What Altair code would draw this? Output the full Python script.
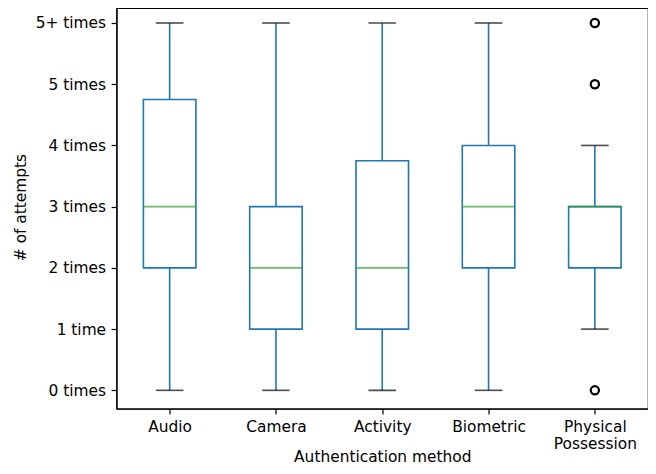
import json
import altair as alt
import pandas as pd

methods = ["Audio", "Camera", "Activity", "Biometric", "Physical\nPossession"]
whisker_low = [0, 0, 0, 0, 1]
q1 = [2, 1, 1, 2, 2]
median = [3, 2, 2, 3, 3]
q3 = [4.75, 3, 3.75, 4, 3]
whisker_high = [6, 6, 6, 6, 4]

outlier_method = ["Physical\nPossession", "Physical\nPossession", "Physical\nPossession"]
outlier_value = [0, 5, 6]

y_tick_values = [0, 1, 2, 3, 4, 5, 6]
y_tick_labels = ["0 times", "1 time", "2 times", "3 times", "4 times", "5 times", "5+ times"]

box_df = pd.DataFrame({
    "method": methods, "lo": whisker_low, "q1": q1,
    "med": median, "q3": q3, "hi": whisker_high,
})
out_df = pd.DataFrame({"method": outlier_method, "value": outlier_value})

BLUE = "#1f77b4"
GREEN = "#2ca02c"
FONT = "DejaVu Sans"
FS = 15.4
LW = 1.6

x_enc = alt.X(
    "method:N",
    sort=methods,
    scale=alt.Scale(type="point", padding=0.5, domain=methods),
    axis=alt.Axis(
        title="Authentication method",
        labelExpr="split(datum.label, '\\n')",
        labelAngle=0,
        labelBaseline="top",
        labelLineHeight=17,
        titleBaseline="alphabetic",
        titleY=53,
    ),
)

y_scale = alt.Scale(domain=[-0.3, 6.245], nice=False, zero=False)
y_axis = alt.Axis(
    title="# of attempts",
    values=y_tick_values,
    labelExpr=json.dumps(y_tick_labels) + "[datum.value]",
    titleBaseline="alphabetic",
    titleX=-91,
    titleY=199,
    titleAngle=270,
)

base = alt.Chart(box_df)

whiskers = base.mark_rule(color=BLUE, strokeWidth=LW).encode(
    x=x_enc,
    y=alt.Y("lo:Q", scale=y_scale, axis=y_axis),
    y2="hi:Q",
)

boxes = base.mark_bar(fill="white", stroke=BLUE, strokeWidth=LW, size=52.5).encode(
    x=x_enc,
    y=alt.Y("q1:Q", scale=y_scale),
    y2="q3:Q",
)

medians = base.mark_tick(color=GREEN, size=53, thickness=LW).encode(
    x=x_enc,
    y=alt.Y("med:Q", scale=y_scale),
)

caps_lo = base.mark_tick(color="black", size=27.6, thickness=LW).encode(
    x=x_enc,
    y=alt.Y("lo:Q", scale=y_scale),
)
caps_hi = base.mark_tick(color="black", size=27.6, thickness=LW).encode(
    x=x_enc,
    y=alt.Y("hi:Q", scale=y_scale),
)

outliers = alt.Chart(out_df).mark_point(
    shape="circle", filled=False, color="black", strokeWidth=2.2, size=68, opacity=1
).encode(
    x=x_enc,
    y=alt.Y("value:Q", scale=y_scale),
)

chart = alt.layer(whiskers, boxes, medians, caps_lo, caps_hi, outliers).properties(
    width=531.5,
    height=400.7,
    background="white",
    autosize=alt.AutoSizeParams(type="none"),
    padding={"left": 108.5, "top": 0, "right": 0, "bottom": 57.3},
).configure_view(
    stroke="black", strokeWidth=1.2
).configure_axis(
    grid=False,
    domainColor="black",
    domainWidth=1.2,
    tickColor="black",
    tickWidth=1.2,
    tickSize=5.4,
    labelPadding=5.5,
    labelColor="black",
    titleColor="black",
    labelFont=FONT,
    titleFont=FONT,
    labelFontSize=FS,
    titleFontSize=FS,
    titleFontWeight="normal",
)

chart.save("out.html", embed_options={"renderer": "svg", "actions": False})
